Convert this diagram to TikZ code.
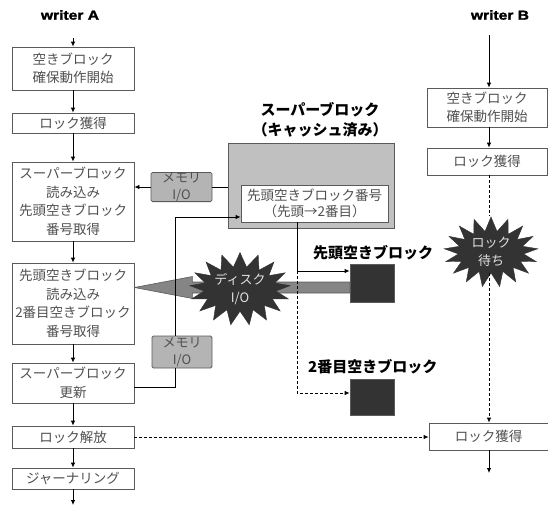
\documentclass[tikz,border=0pt]{standalone}
\usepackage{fontspec}
\setmainfont{Noto Sans CJK JP}
\newfontfamily\wfont[FakeStretch=1.2,FakeBold=2]{Liberation Sans}
\usetikzlibrary{shapes.symbols,arrows.meta,calc}
\pgfdeclarelayer{bg}
\pgfsetlayers{bg,main}
\definecolor{bordc}{HTML}{5A5A5A}
\definecolor{txtc}{HTML}{505050}
\definecolor{sbfill}{HTML}{C0C0C0}
\definecolor{memfill}{HTML}{B4B4B4}
\definecolor{bandfill}{HTML}{858585}
\definecolor{darkc}{HTML}{333333}
\definecolor{startxt}{HTML}{E0E0E0}
\begin{document}
\begin{tikzpicture}[x=1pt,y=-1pt,
  box/.style={draw=bordc, fill=white, text=txtc, align=center, inner sep=0pt,
    font=\fontsize{13.5}{18.5}\selectfont, line width=0.8pt},
  membox/.style={draw=bordc, fill=memfill, text=txtc, align=center, inner sep=0pt,
    rounded corners=1.5pt, font=\fontsize{13}{17}\selectfont, line width=0.8pt},
  blk/.style={draw=bordc, fill=darkc, inner sep=0pt, line width=0.8pt},
  wtitle/.style={font=\wfont\bfseries\fontsize{13}{15}\selectfont, inner sep=0pt},
  ttl/.style={font=\bfseries\fontsize{15}{20}\selectfont, align=center, inner sep=0pt},
  burst/.style={starburst, starburst points=17, random starburst=0, fill=darkc, draw=darkc,
    text=startxt, align=center, inner sep=0pt, font=\fontsize{13}{18}\selectfont},
  line/.style={draw=black, line width=0.8pt},
  arr/.style={line, -{Latex[length=5pt,width=4.5pt]}},
  dsh/.style={dash pattern=on 3pt off 2pt}
]
\useasboundingbox (0,0) rectangle (548,509);

% writer A column
\node[wtitle] (wa) at (70,15) {writer A};
\coordinate (astart) at (73,38);
\node[box, minimum width=122pt, minimum height=43pt] (a1) at (73,68.5) {空きブロック\\確保動作開始};
\node[box, minimum width=122pt, minimum height=20pt] (a2) at (73,123) {ロック獲得};
\node[box, minimum width=122pt, minimum height=79pt] (a3) at (73,201.5) {スーパーブロック\\読み込み\\先頭空きブロック\\番号取得};
\node[box, minimum width=122pt, minimum height=81pt] (a4) at (73,303.5) {先頭空きブロック\\読み込み\\2番目空きブロック\\番号取得};
\node[box, minimum width=122pt, minimum height=40pt] (a5) at (73,383) {スーパーブロック\\更新};
\node[box, minimum width=122pt, minimum height=22pt] (a6) at (73,437) {ロック解放};
\node[box, minimum width=122pt, minimum height=21pt] (a7) at (73,478.5) {ジャーナリング};
\coordinate (aend) at (73,505);

\draw[arr] (astart) -- (a1.north);
\draw[arr] (a1.south) -- (a2.north);
\draw[arr] (a2.south) -- (a3.north);
\draw[arr] (a3.south) -- (a4.north);
\draw[arr] (a4.south) -- (a5.north);
\draw[arr] (a5.south) -- (a6.north);
\draw[arr] (a6.south) -- (a7.north);
\draw[arr] (a7.south) -- (aend);

% writer B column
\node[wtitle] (wb) at (500,15) {writer B};
\coordinate (bstart) at (489,35);
\node[box, minimum width=120pt, minimum height=39pt] (b1) at (487,107.5) {空きブロック\\確保動作開始};
\node[box, minimum width=120pt, minimum height=27pt] (b2) at (487,161.5) {ロック獲得};
\node[burst, minimum width=94pt, minimum height=56pt] (lw) at (491,252) {ロック\\待ち};
\node[box, minimum width=119pt, minimum height=27pt] (b3) at (488.5,436.5) {ロック獲得};
\coordinate (bend) at (489,473);

\draw[arr] (bstart) -- (bstart |- b1.north);
\draw[arr] (b1.south -| bstart) -- (b2.north -| bstart);
\draw[line, dsh] (b2.south -| bstart) -- (lw.north -| bstart);
\draw[arr, dsh] (lw.south -| bstart) -- (b3.north -| bstart);
\draw[arr] (b3.south -| bstart) -- (bend);

% super block
\node[ttl] (sbt) at (320,120) {スーパーブロック\\（キャッシュ済み）};
\node[draw=bordc, fill=sbfill, minimum width=166pt, minimum height=85pt, line width=0.8pt, inner sep=0pt] (sb) at (311,185.5) {};
\node[box, minimum width=147pt, minimum height=37pt, font=\fontsize{13.5}{16}\selectfont] (ib) at (314.5,203.5) {先頭空きブロック番号\\（先頭→2番目）};

\node[membox, minimum width=61pt, minimum height=28pt] (m1) at (181.5,187) {メモリ\\I/O};
\node[membox, minimum width=60pt, minimum height=32pt] (m2) at (182,352) {メモリ\\I/O};

\node[blk, minimum width=44pt, minimum height=38pt] (k1) at (372,283) {};
\node[blk, minimum width=44pt, minimum height=36pt] (k2) at (372,397) {};
\node[ttl, anchor=west] (l1) at (313,253) {先頭空きブロック};
\node[ttl, anchor=west] (l2) at (308,367) {2番目空きブロック};

% disk I/O band and star
\coordinate (bandR) at ($(k1.west)+(0,4.5)$);
\coordinate (bandL) at (a4.east |- bandR);
\begin{pgfonlayer}{bg}
\filldraw[fill=bandfill, draw=bordc, line width=0.6pt]
  ($(bandR)+(0,-5.5)$) -- ($(bandL)+(58,-5.5)$) -- ($(bandL)+(58,-11)$) -- (bandL)
  -- ($(bandL)+(58,11)$) -- ($(bandL)+(58,5.5)$) -- ($(bandR)+(0,5.5)$) -- cycle;
\end{pgfonlayer}
\node[burst, minimum width=92pt, minimum height=64pt] (disk) at (240,289) {ディスク\\I/O};

% connectors
\coordinate (p1) at (175,387);
\coordinate (p2) at (175,217);
\coordinate (p3) at (297,271);
\coordinate (p4) at (297,393);
\draw[arr] (m1.west) -- (m1.west -| a3.east);
\draw[line] (m1.east) -- (m1.east -| sb.west);
\draw[line] (p1 -| a5.east) -- (p1) -- (p1 |- m2.south);
\draw[arr] (p1 |- m2.north) -- (p2) -- (p2 -| ib.west);
\draw[arr] (p3 |- ib.south) -- (p3) -- (p3 -| k1.west);
\draw[arr, dsh] (p3) -- (p4) -- (p4 -| k2.west);
\draw[arr, dsh] (a6.east) -- (a6.east -| b3.west);
\end{tikzpicture}
\end{document}
